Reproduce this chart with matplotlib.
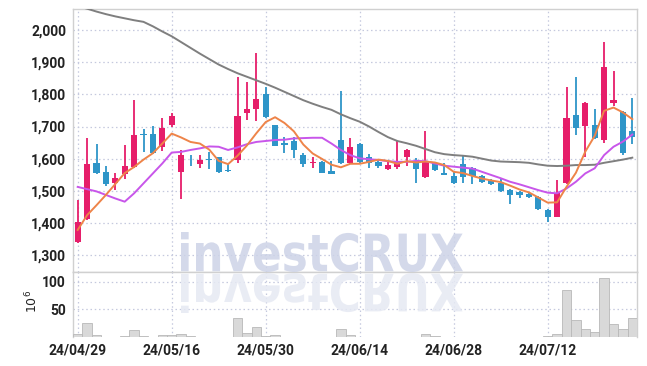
import matplotlib
matplotlib.use('Agg')
import matplotlib.pyplot as plt
from matplotlib.textpath import TextPath
from matplotlib.patches import PathPatch
from matplotlib.font_manager import FontProperties
from matplotlib.transforms import Affine2D
from matplotlib.ticker import FuncFormatter

# date labels every 10 trading days
tick_pos = [0, 10, 20, 30, 40, 50]
tick_labels = ['24/04/29', '24/05/16', '24/05/30', '24/06/14', '24/06/28', '24/07/12']

opens = [1341, 1412, 1585, 1557, 1523, 1551, 1575, 1676, 1676, 1637,
         1704, 1559, 1606, 1583, 1597, 1604, 1565, 1596, 1743, 1756,
         1801, 1704, 1650, 1655, 1611, 1585, 1590, 1561, 1658, 1585,
         1647, 1604, 1588, 1567, 1575, 1604, 1592, 1544, 1585, 1556,
         1546, 1582, 1570, 1546, 1532, 1525, 1502, 1497, 1490, 1481,
         1440, 1419, 1525, 1736, 1702, 1704, 1658, 1774, 1745, 1686]
highs = [1471, 1663, 1645, 1578, 1556, 1642, 1782, 1691, 1701, 1728,
         1741, 1627, 1611, 1611, 1621, 1606, 1583, 1855, 1840, 1929,
         1822, 1706, 1666, 1668, 1618, 1606, 1594, 1593, 1811, 1663,
         1650, 1614, 1596, 1590, 1655, 1629, 1603, 1687, 1590, 1585,
         1559, 1608, 1575, 1550, 1536, 1536, 1505, 1500, 1493, 1484,
         1442, 1535, 1824, 1855, 1775, 1756, 1964, 1873, 1748, 1790]
lows = [1338, 1408, 1552, 1515, 1503, 1538, 1570, 1622, 1615, 1625,
        1700, 1473, 1578, 1570, 1567, 1554, 1559, 1585, 1720, 1718,
        1728, 1638, 1618, 1603, 1573, 1570, 1555, 1551, 1584, 1582,
        1585, 1570, 1571, 1565, 1567, 1577, 1523, 1539, 1562, 1548,
        1520, 1525, 1520, 1523, 1519, 1497, 1459, 1478, 1476, 1440,
        1404, 1417, 1522, 1673, 1606, 1660, 1650, 1764, 1610, 1645]
closes = [1404, 1582, 1556, 1521, 1540, 1577, 1675, 1673, 1618, 1694,
          1732, 1611, 1604, 1596, 1595, 1559, 1563, 1732, 1756, 1787,
          1730, 1640, 1642, 1627, 1583, 1588, 1556, 1552, 1587, 1635,
          1590, 1585, 1576, 1580, 1590, 1627, 1567, 1589, 1565, 1550,
          1525, 1544, 1545, 1526, 1522, 1499, 1487, 1487, 1479, 1442,
          1419, 1494, 1728, 1696, 1772, 1663, 1884, 1782, 1618, 1668]

ma_short = [1378, 1424, 1455, 1487, 1521, 1555, 1574, 1597, 1617, 1647,
            1678, 1666, 1652, 1647, 1628, 1593, 1583, 1609, 1641, 1679,
            1714, 1729, 1711, 1685, 1644, 1616, 1599, 1581, 1573, 1584,
            1584, 1590, 1597, 1593, 1584, 1592, 1588, 1591, 1588, 1580,
            1559, 1555, 1546, 1538, 1532, 1527, 1516, 1504, 1495, 1479,
            1463, 1464, 1512, 1556, 1622, 1671, 1749, 1759, 1744, 1723]
ma_mid = [1512, 1505, 1498, 1487, 1476, 1466, 1492, 1523, 1554, 1585,
          1619, 1621, 1627, 1632, 1638, 1637, 1627, 1635, 1645, 1652,
          1655, 1658, 1659, 1663, 1664, 1665, 1665, 1647, 1627, 1611,
          1601, 1598, 1596, 1592, 1590, 1590, 1593, 1592, 1585, 1578,
          1575, 1572, 1569, 1559, 1549, 1539, 1528, 1520, 1511, 1502,
          1494, 1492, 1507, 1528, 1554, 1570, 1611, 1637, 1653, 1675]
ma_long = [2075, 2067, 2058, 2050, 2043, 2037, 2031, 2026, 2012, 1996,
           1981, 1963, 1945, 1927, 1910, 1893, 1879, 1866, 1855, 1844,
           1833, 1821, 1808, 1795, 1782, 1771, 1761, 1752, 1738, 1726,
           1715, 1700, 1683, 1667, 1655, 1648, 1640, 1630, 1620, 1614,
           1611, 1609, 1606, 1600, 1594, 1591, 1590, 1589, 1587, 1582,
           1578, 1577, 1578, 1580, 1580, 1581, 1587, 1592, 1597, 1603]

# volume in millions
volumes = [5, 25, 3, 0.5, 0.5, 1.5, 12, 2, 0.5, 4,
           4, 6, 1, 0.5, 0.5, 0.5, 0.5, 35, 7.5, 18,
           2, 3, 0.5, 0.5, 0.5, 0.5, 0.5, 0.5, 14, 4,
           0.5, 0.5, 0.5, 0.5, 0.5, 0.5, 0.5, 5, 1.5, 0.5,
           0.5, 0.5, 0.5, 0.5, 0.5, 0.5, 0.5, 0.5, 0.5, 0.5,
           1, 5, 86, 31, 14, 9, 107, 23.5, 14, 35]

UP = '#e61e6a'
DOWN = '#2e95c8'
GRID = '#c5c9de'
TXT = '#222222'
FONT = ['Roboto', 'DejaVu Sans']

W, H = 647, 366
fig = plt.figure(figsize=(W / 100, H / 100), dpi=100)
ax = fig.add_axes([73 / W, 1 - 272 / H, 564 / W, 263 / H])
axv = fig.add_axes([73 / W, 1 - 337 / H, 564 / W, 65 / H], sharex=ax)

x = list(range(len(closes)))
colors = [UP if c >= o else DOWN for o, c in zip(opens, closes)]
bottoms = [min(o, c) for o, c in zip(opens, closes)]
heights = [max(abs(c - o), 2.5) for o, c in zip(opens, closes)]

ax.vlines(x, lows, highs, colors=colors, linewidth=1.3, zorder=3)
ax.bar(x, heights, bottom=bottoms, width=0.68, color=colors, zorder=4)

ax.plot(x, ma_long, color='#7f7f7f', lw=1.4, zorder=5)
ax.plot(x, ma_mid, color='#c856ea', lw=1.4, zorder=5)
ax.plot(x, ma_short, color='#ee8449', lw=1.4, zorder=5)

axv.bar(x, volumes, width=1.0, color='#d9d9d9', edgecolor='#b8b8b8', linewidth=0.6, zorder=3)

ax.set_xlim(-0.5, 59.5)
ax.set_ylim(1247, 2066)
ax.set_yticks(range(1300, 2001, 100))
ax.yaxis.set_major_formatter(FuncFormatter(lambda v, p: f'{int(v):,}'))
axv.set_ylim(0, 118)
axv.set_yticks([50, 100])
axv.set_xticks(tick_pos)
axv.set_xticklabels(tick_labels)

for a in (ax, axv):
    a.grid(True, color=GRID, linestyle=(0, (1.2, 2.2)), linewidth=0.9)
    a.set_axisbelow(True)
    a.tick_params(length=0, pad=5, labelsize=10, labelcolor=TXT)
    for lab in a.get_xticklabels() + a.get_yticklabels():
        lab.set_family(FONT)
        lab.set_fontweight('bold')
    for s in a.spines.values():
        s.set_color('#d0d0d0')
        s.set_linewidth(1.0)
axv.spines['bottom'].set_visible(False)
ax.tick_params(axis='x', labelbottom=False)

axv.set_ylabel(r'$10^6$', fontsize=9, color=TXT)
axv.yaxis.set_label_coords(-0.058, 0.55)

# watermark with reflection
fp = FontProperties(family='DejaVu Sans', weight='bold')
tp = TextPath((0, 0), 'investCRUX', size=100, prop=fp)
bb = tp.get_extents()
sx = (463 - 181) / bb.width
sy = (272 - 232) / bb.height
tr = Affine2D().translate(-bb.x0, -bb.y0).scale(sx, sy).translate(181, H - 272)
fig.add_artist(PathPatch(tp, transform=tr, fc='#cdd3e7', ec='none', alpha=0.85, zorder=2))
tr2 = Affine2D().translate(-bb.x0, -bb.y0).scale(sx, -sy).translate(181, H - 273)
fig.add_artist(PathPatch(tp, transform=tr2, fc='#e6e9f3', ec='none', alpha=0.85, zorder=2))

fig.savefig('out.png', dpi=100)
